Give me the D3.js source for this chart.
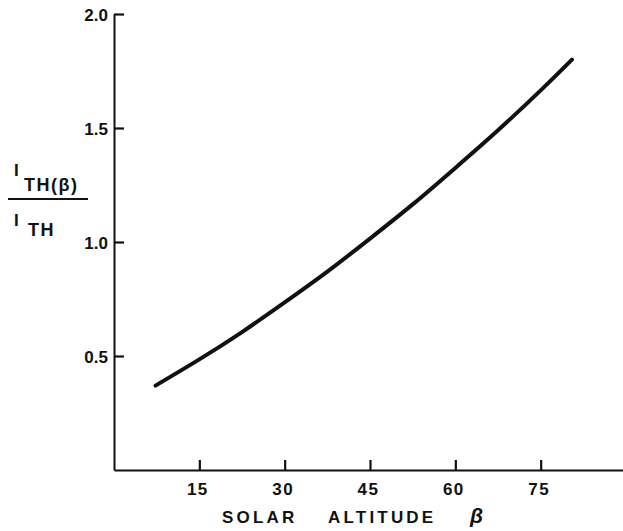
<!DOCTYPE html>
<html><head><meta charset="utf-8">
<script src="https://cdn.jsdelivr.net/npm/d3@7"></script>
<style>
body{margin:0;background:#fff;}
svg{display:block;font-family:"Liberation Sans",Arial,sans-serif;}
</style></head>
<body>
<svg id="c" width="623" height="531"></svg>
<script>
const betaValues = [7.3, 15, 22.5, 30, 37.5, 45, 52.5, 60, 67.5, 75, 80.5];
const ratioValues = [0.37, 0.485, 0.605, 0.735, 0.87, 1.015, 1.165, 1.325, 1.49, 1.665, 1.80];
const xTicks = [15, 30, 45, 60, 75];
const yTicks = [0.5, 1.0, 1.5, 2.0];
const xTitleWords = ["SOLAR", "ALTITUDE", "β"];

const svg = d3.select("#c");
const x = d3.scaleLinear().domain([0, 90]).range([114, 626]);
const y = d3.scaleLinear().domain([0, 2]).range([470, 14]);

const xAxis = svg.append("g").attr("transform", "translate(0,470)")
  .call(d3.axisBottom(x).tickValues(xTicks).tickSizeInner(-10).tickSizeOuter(0).tickPadding(13));
const yAxis = svg.append("g").attr("transform", "translate(114,0)")
  .call(d3.axisLeft(y).tickValues(yTicks).tickFormat(d3.format(".1f")).tickSizeInner(-10).tickSizeOuter(0).tickPadding(6));

[xAxis, yAxis].forEach(g => {
  g.select(".domain").attr("stroke", "#111").attr("stroke-width", 2);
  g.selectAll(".tick line").attr("stroke", "#111").attr("stroke-width", 2.2);
  g.selectAll(".tick text").attr("fill", "#111").attr("font-size", 17).attr("font-weight", "bold")
    .attr("font-family", "'Liberation Sans',Arial,sans-serif");
});
xAxis.selectAll(".tick text").attr("dx", -2).attr("letter-spacing", 1.5);
yAxis.selectAll(".tick text").attr("dy", "0.4em");

const data = betaValues.map((b, i) => [b, ratioValues[i]]);
svg.append("path").datum(data)
  .attr("fill", "none").attr("stroke", "#111").attr("stroke-width", 4).attr("stroke-linecap", "round")
  .attr("d", d3.line().x(d => x(d[0])).y(d => y(d[1])).curve(d3.curveNatural));

// x title
const tpos = [222, 328, 470];
xTitleWords.forEach((w, i) => {
  svg.append("text").attr("x", tpos[i]).attr("y", 523)
    .attr("font-size", i === 2 ? 21 : 17).attr("font-weight", "bold")
    .attr("font-style", i === 2 ? "italic" : "normal")
    .attr("letter-spacing", i === 2 ? 0 : 3.2)
    .attr("fill", "#111").text(w);
});

// y title: I_TH(β) / I_TH
const yl = svg.append("g").attr("fill", "#111").attr("font-weight", "bold");
yl.append("text").attr("x", 14).attr("y", 176).attr("font-size", 17).text("I");
yl.append("text").attr("x", 24).attr("y", 191).attr("font-size", 18).attr("letter-spacing", 1.5).text("TH(β)");
yl.append("line").attr("x1", 8).attr("x2", 88).attr("y1", 199).attr("y2", 199).attr("stroke", "#111").attr("stroke-width", 2);
yl.append("text").attr("x", 14).attr("y", 226).attr("font-size", 17).text("I");
yl.append("text").attr("x", 28).attr("y", 236).attr("font-size", 18).attr("letter-spacing", 1.5).text("TH");
</script>
</body></html>
